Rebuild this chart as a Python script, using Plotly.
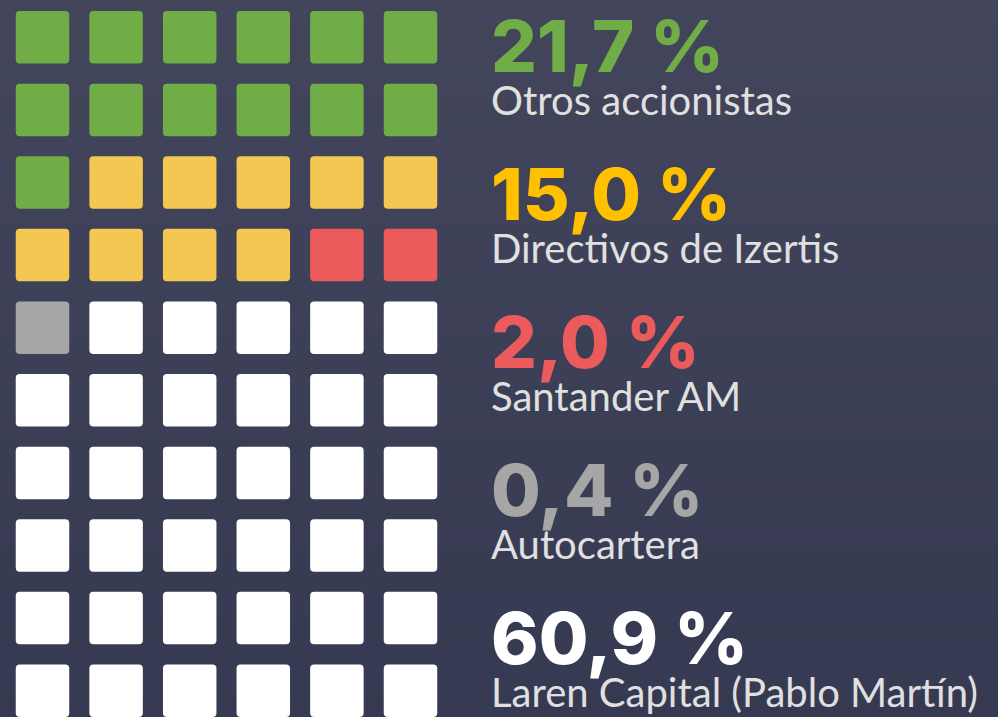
import plotly.graph_objects as go

# ---- data ----
categories = ["Otros accionistas", "Directivos de Izertis", "Santander AM", "Autocartera",
              "Laren Capital (Pablo Martín)"]
percent_labels = ["21,7 %", "15,0 %", "2,0 %", "0,4 %", "60,9 %"]
cell_counts = [13, 9, 2, 1, 35]
square_colors = ["#70AD47", "#F4C752", "#EB5B5B", "#A6A6A6", "#FFFFFF"]
number_colors = ["#70AD47", "#FFC000", "#EB5B5B", "#A6A6A6", "#FFFFFF"]
n_cols = 6
n_rows = 10

W, H = 998, 717
BG_TOP, BG_BOTTOM = "#43465b", "#353951"

# axes mapping: px = 42.5 + 73.6*c ; py = 37.3 + 72.6*r
px0, pxs = 42.5, 73.6
py0, pys = 37.3, 72.6
xr = [-px0 / pxs, (W - px0) / pxs]
yr = [(H - py0) / pys, -py0 / pys]

fig = go.Figure()

# background vertical gradient
fig.add_trace(go.Heatmap(
    z=[[0, 0], [1, 1]], x=[xr[0] - 0.2, xr[1] + 0.2], y=[yr[0] + 0.2, yr[1] - 0.2],
    zsmooth="best", colorscale=[[0, BG_BOTTOM], [1, BG_TOP]], showscale=False,
    hoverinfo="skip"))

# waffle cells
hx, hy, rr = 0.3635, 0.3616, 0.055
idx = 0
for cat, cnt, col in zip(categories, cell_counts, square_colors):
    xs, ys = [], []
    for k in range(cnt):
        c = idx % n_cols
        r = idx // n_cols
        xs.append(c); ys.append(r)
        x0, x1, y0, y1 = c - hx, c + hx, r - hy, r + hy
        path = (f"M {x0+rr},{y0} L {x1-rr},{y0} Q {x1},{y0} {x1},{y0+rr} "
                f"L {x1},{y1-rr} Q {x1},{y1} {x1-rr},{y1} L {x0+rr},{y1} "
                f"Q {x0},{y1} {x0},{y1-rr} L {x0},{y0+rr} Q {x0},{y0} {x0+rr},{y0} Z")
        fig.add_shape(type="path", path=path, xref="x", yref="y",
                      fillcolor=col, line=dict(width=0), layer="above")
        idx += 1
    fig.add_trace(go.Scatter(x=xs, y=ys, mode="markers", name=cat,
                             marker=dict(size=1, color="rgba(0,0,0,0)"),
                             hovertemplate=cat + "<extra></extra>", showlegend=False))

fig.update_layout(
    width=W, height=H, margin=dict(l=0, r=0, t=0, b=0),
    paper_bgcolor=BG_BOTTOM, plot_bgcolor="rgba(0,0,0,0)",
    xaxis=dict(range=xr, visible=False, domain=[0, 1]),
    yaxis=dict(range=yr, visible=False, domain=[0, 1]),
    showlegend=False,
)

text_x = 489 / W
block_centers = [63, 211, 359, 507, 655]
for pl, nc, cat, by in zip(percent_labels, number_colors, categories, block_centers):
    txt = (f"<span style='font-family:Inter;font-size:72px;font-weight:800;color:{nc}'>{pl}</span>"
           f"<br><span style='font-family:Lato;font-size:40px;color:#E0E0E0'>{cat}</span>")
    fig.add_annotation(text=txt, x=text_x, y=1 - by / H, xref="paper", yref="paper",
                       xanchor="left", yanchor="middle", showarrow=False, align="left",
                       font=dict(family="Lato", size=33, color="#E0E0E0"))

fig.write_html("out.html", config={"displayModeBar": False},
               post_script="document.body.style.margin='0';")
